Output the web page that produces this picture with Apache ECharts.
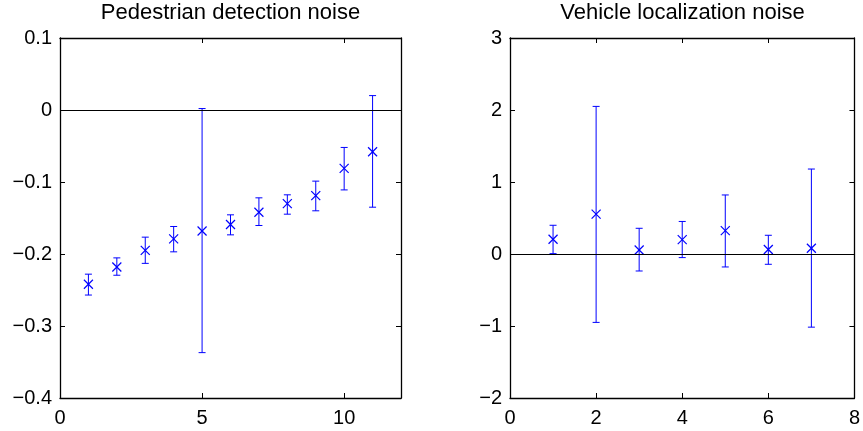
<!DOCTYPE html>
<html>
<head>
<meta charset="utf-8">
<script src="https://cdn.jsdelivr.net/npm/echarts@6/dist/echarts.min.js"></script>
<style>
html,body{margin:0;padding:0;background:#fff;}
#chart{width:863px;height:431px;}
</style>
</head>
<body>
<div id="chart"></div>
<script>
// ---- Data ----
const pedTitle = "Pedestrian detection noise";
const pedX    = [1, 2, 3, 4, 5, 6, 7, 8, 9, 10, 11];
const pedMean = [-0.242, -0.218, -0.195, -0.179, -0.168, -0.159, -0.142, -0.130, -0.119, -0.081, -0.058];
const pedLow  = [-0.257, -0.2295, -0.213, -0.197, -0.337, -0.1734, -0.1604, -0.1447, -0.140, -0.111, -0.135];
const pedHigh = [-0.228, -0.2054, -0.1766, -0.1618, 0.002, -0.1456, -0.122, -0.1178, -0.0988, -0.052, 0.020];

const vehTitle = "Vehicle localization noise";
const vehX    = [1, 2, 3, 4, 5, 6, 7];
const vehMean = [0.205, 0.553, 0.056, 0.200, 0.325, 0.063, 0.080];
const vehLow  = [0.005, -0.950, -0.236, -0.050, -0.180, -0.143, -1.016];
const vehHigh = [0.399, 2.050, 0.357, 0.452, 0.820, 0.260, 1.180];

const pedXAxis = {min: 0, max: 12, interval: 5, showMax: false};
const pedYAxis = {min: -0.4, max: 0.1, interval: 0.1, showMax: true};
const vehXAxis = {min: 0, max: 8, interval: 2, showMax: true};
const vehYAxis = {min: -2, max: 3, interval: 1, showMax: true};

// ---- Chart ----
const FONT = "'Liberation Sans', Arial, Helvetica, sans-serif";
const BLUE = '#0000ff';

function fmt(v) {
  const r = Math.round(v * 1000) / 1000;
  const s = String(Math.abs(r));
  return (r < 0 ? '\u2212' : '') + s;
}

function rows(xs, m, lo, hi) {
  return xs.map((x, i) => [x, m[i], lo[i], hi[i]]);
}

function renderErr(params, api) {
  const x = api.value(0), y = api.value(1), lo = api.value(2), hi = api.value(3);
  const c = api.coord([x, y]);
  const pl = api.coord([x, lo]);
  const ph = api.coord([x, hi]);
  const cap = 3.5, m = 4.5;
  const style = {stroke: BLUE, lineWidth: 1, fill: null};
  const mstyle = {stroke: BLUE, lineWidth: 1.2, fill: null};
  return {
    type: 'group',
    children: [
      {type: 'line', shape: {x1: pl[0], y1: pl[1], x2: ph[0], y2: ph[1]}, style: style},
      {type: 'line', shape: {x1: pl[0] - cap, y1: pl[1], x2: pl[0] + cap, y2: pl[1]}, style: style},
      {type: 'line', shape: {x1: ph[0] - cap, y1: ph[1], x2: ph[0] + cap, y2: ph[1]}, style: style},
      {type: 'line', shape: {x1: c[0] - m, y1: c[1] - m, x2: c[0] + m, y2: c[1] + m}, style: mstyle},
      {type: 'line', shape: {x1: c[0] - m, y1: c[1] + m, x2: c[0] + m, y2: c[1] - m}, style: mstyle}
    ]
  };
}

function ax(grid, cfg, pos, showLabel, margin) {
  return {
    type: 'value', gridIndex: grid, position: pos, min: cfg.min, max: cfg.max, interval: cfg.interval,
    splitLine: {show: false},
    axisLine: {show: true, onZero: false, lineStyle: {color: '#000', width: 1.3}},
    axisTick: {show: true, inside: true, length: 5, lineStyle: {color: '#000', width: 1}},
    axisLabel: {show: showLabel, showMaxLabel: cfg.showMax, color: '#000', fontSize: 20, fontFamily: FONT,
                margin: margin, formatter: fmt}
  };
}

const zeroLine = {
  silent: true, symbol: 'none', animation: false,
  label: {show: false},
  lineStyle: {color: '#000', width: 1, type: 'solid'},
  data: [{yAxis: 0}]
};

const grids = [
  {left: 60, top: 38, width: 341, height: 360},
  {left: 510, top: 38, width: 345, height: 360}
];

const chart = echarts.init(document.getElementById('chart'), null, {renderer: 'canvas'});
chart.setOption({
  animation: false,
  backgroundColor: '#fff',
  title: [
    {text: pedTitle, left: grids[0].left + grids[0].width / 2, top: 2, textAlign: 'center', padding: 0,
     textStyle: {fontSize: 22, fontWeight: 'normal', color: '#000', fontFamily: FONT}},
    {text: vehTitle, left: grids[1].left + grids[1].width / 2, top: 2, textAlign: 'center', padding: 0,
     textStyle: {fontSize: 22, fontWeight: 'normal', color: '#000', fontFamily: FONT}}
  ],
  grid: grids,
  xAxis: [
    ax(0, pedXAxis, 'bottom', true, 10), ax(0, pedXAxis, 'top', false, 10),
    ax(1, vehXAxis, 'bottom', true, 10), ax(1, vehXAxis, 'top', false, 10)
  ],
  yAxis: [
    ax(0, pedYAxis, 'left', true, 8), ax(0, pedYAxis, 'right', false, 8),
    ax(1, vehYAxis, 'left', true, 8), ax(1, vehYAxis, 'right', false, 8)
  ],
  series: [
    {type: 'custom', xAxisIndex: 0, yAxisIndex: 0, renderItem: renderErr,
     data: rows(pedX, pedMean, pedLow, pedHigh), encode: {x: 0, y: [1, 2, 3]}, markLine: zeroLine, clip: false},
    {type: 'custom', xAxisIndex: 2, yAxisIndex: 2, renderItem: renderErr,
     data: rows(vehX, vehMean, vehLow, vehHigh), encode: {x: 0, y: [1, 2, 3]}, markLine: zeroLine, clip: false}
  ]
});
</script>
</body>
</html>
